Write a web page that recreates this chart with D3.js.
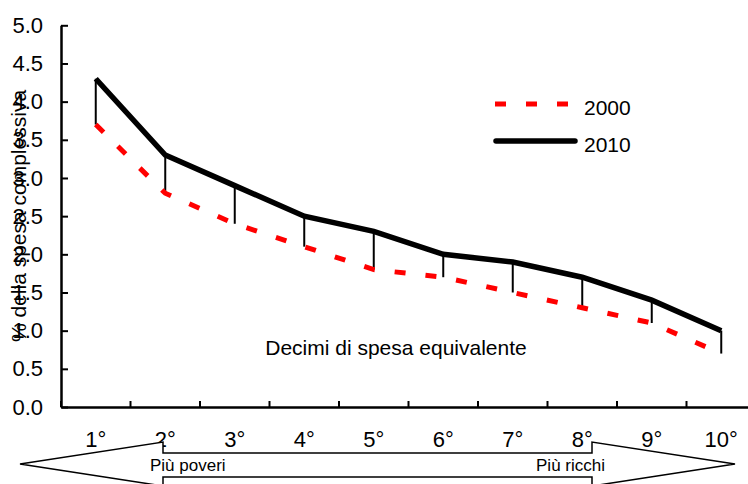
<!DOCTYPE html>
<html lang="it">
	<head>
		<meta charset="utf-8">
		<title>spesa per decimi</title>
		<script type="text/javascript" src="https://cdn.jsdelivr.net/npm/d3@7"></script>
		<style type="text/css">
			body{
				margin: 0;
				background: #fff;
			}
			text{
				font-family: "Liberation Sans", Arial, sans-serif;
			}
		</style>
	</head>
	<body>
	<script type="text/javascript">

			//Width and height
			var w = 748;
			var h = 484;

			//Data
			var decimi = ["1°", "2°", "3°", "4°", "5°", "6°", "7°", "8°", "9°", "10°"];
			var anni = ["2000", "2010"];
			var valori2000 = [3.7, 2.8, 2.4, 2.1, 1.8, 1.7, 1.5, 1.3, 1.1, 0.7];
			var valori2010 = [4.3, 3.3, 2.9, 2.5, 2.3, 2.0, 1.9, 1.7, 1.4, 1.0];
			var yTicks = [0, 0.5, 1, 1.5, 2, 2.5, 3, 3.5, 4, 4.5, 5];

			//Scales
			var xScale = d3.scaleBand()
							.domain(decimi)
							.range([61, 756])
							.padding(0);

			var yScale = d3.scaleLinear()
							.domain([0, 5])
							.range([407, 25.3]);

			var cx = function(d) { return xScale(d) + xScale.bandwidth() / 2; };

			//Create SVG element
			var svg = d3.select("body")
						.append("svg")
						.attr("width", w)
						.attr("height", h);

			//Y axis (ticks inside)
			var yAxis = d3.axisLeft(yScale)
							.tickValues(yTicks)
							.tickSizeInner(-7)
							.tickSizeOuter(0)
							.tickFormat(d3.format(".1f"));

			var gy = svg.append("g")
						.attr("transform", "translate(61,0)")
						.call(yAxis);
			gy.select(".domain").attr("stroke", "#000").attr("stroke-width", 2.5);
			gy.selectAll(".tick line").attr("stroke-width", 2);
			gy.selectAll(".tick text")
				.attr("x", -18)
				.attr("font-size", "22px")
				.attr("font-family", "Liberation Sans, Arial, sans-serif")
				.attr("fill", "#000");

			//X axis: line and ticks on the band edges
			var xAxis = d3.axisBottom(xScale)
							.tickSizeInner(-6)
							.tickSizeOuter(0)
							.tickFormat("");
			var gx = svg.append("g")
						.attr("transform", "translate(0,407)")
						.call(xAxis);
			gx.select(".domain").attr("stroke", "#000").attr("stroke-width", 2.5);
			gx.selectAll(".tick")
				.attr("transform", function(d) { return "translate(" + xScale(d) + ",0)"; });
			gx.selectAll(".tick line").attr("stroke-width", 2);

			//X labels
			svg.selectAll("text.xlab")
			   .data(decimi)
			   .enter()
			   .append("text")
			   .attr("class", "xlab")
			   .text(function(d) { return d; })
			   .attr("x", cx)
			   .attr("y", 447)
			   .attr("text-anchor", "middle")
			   .attr("font-size", "22px");

			//Drop lines between the two years
			svg.selectAll("line.drop")
			   .data(decimi)
			   .enter()
			   .append("line")
			   .attr("class", "drop")
			   .attr("x1", cx)
			   .attr("x2", cx)
			   .attr("y1", function(d, i) { return yScale(valori2010[i]); })
			   .attr("y2", function(d, i) { return yScale(valori2000[i]); })
			   .attr("stroke", "#000")
			   .attr("stroke-width", 2);

			//Lines
			var line = d3.line()
						.x(function(d, i) { return cx(decimi[i]); })
						.y(function(d) { return yScale(d); });

			svg.append("path")
			   .datum(valori2000)
			   .attr("d", line)
			   .attr("fill", "none")
			   .attr("stroke", "#ff0000")
			   .attr("stroke-width", 5)
			   .attr("stroke-dasharray", "11,20");

			svg.append("path")
			   .datum(valori2010)
			   .attr("d", line)
			   .attr("fill", "none")
			   .attr("stroke", "#000")
			   .attr("stroke-width", 5.5)
			   .attr("stroke-linejoin", "miter");

			//Legend
			var legend = svg.append("g");
			legend.append("line")
				.attr("x1", 495).attr("x2", 568)
				.attr("y1", 104).attr("y2", 104)
				.attr("stroke", "#ff0000")
				.attr("stroke-width", 5)
				.attr("stroke-dasharray", "11,20");
			legend.append("line")
				.attr("x1", 496).attr("x2", 575)
				.attr("y1", 141).attr("y2", 141)
				.attr("stroke", "#000")
				.attr("stroke-width", 5.5)
				.attr("stroke-linecap", "round");
			legend.selectAll("text")
				.data(anni)
				.enter()
				.append("text")
				.text(function(d) { return d; })
				.attr("x", 584)
				.attr("y", function(d, i) { return 115 + i * 37; })
				.attr("font-size", "21px");

			//Axis titles
			svg.append("text")
			   .text("Decimi di spesa equivalente")
			   .attr("x", 396)
			   .attr("y", 355)
			   .attr("text-anchor", "middle")
			   .attr("font-size", "21px");

			svg.append("text")
			   .text("% della spesa complessiva")
			   .attr("transform", "translate(26,216) rotate(-90)")
			   .attr("text-anchor", "middle")
			   .attr("font-size", "21px");

			//Double arrow poveri / ricchi
			var arrow = [[20, 464], [163, 442], [163, 453], [592, 453], [592, 442], [735, 464],
						 [592, 486], [592, 477], [163, 477], [163, 486]];
			svg.append("polygon")
			   .attr("points", arrow.map(function(p) { return p.join(","); }).join(" "))
			   .attr("fill", "#fff")
			   .attr("stroke", "#000")
			   .attr("stroke-width", 1.5);

			svg.append("text")
			   .text("Più poveri")
			   .attr("x", 150)
			   .attr("y", 471)
			   .attr("font-size", "17px");

			svg.append("text")
			   .text("Più ricchi")
			   .attr("x", 605)
			   .attr("y", 471)
			   .attr("text-anchor", "end")
			   .attr("font-size", "17px");

		</script>
	</body>
</html>
